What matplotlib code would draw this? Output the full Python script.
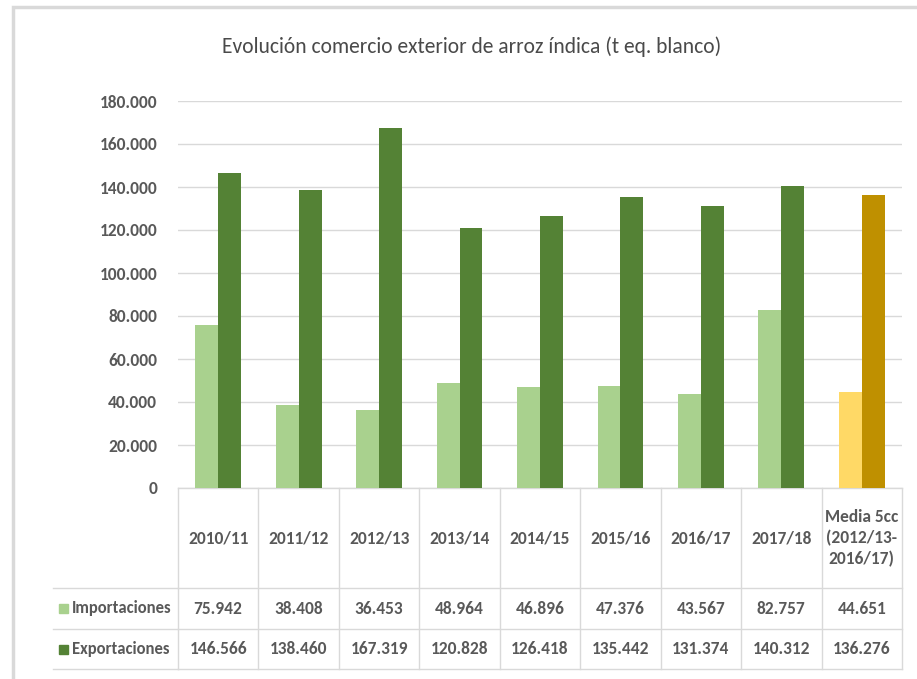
import matplotlib
matplotlib.use('Agg')
import matplotlib.pyplot as plt
import matplotlib.transforms as mtransforms
from matplotlib import font_manager
from matplotlib.patches import Rectangle
import numpy as np

categorias = ['2010/11', '2011/12', '2012/13', '2013/14', '2014/15', '2015/16',
              '2016/17', '2017/18', 'Media 5cc\n(2012/13-\n2016/17)']
importaciones = [75942, 38408, 36453, 48964, 46896, 47376, 43567, 82757, 44651]
exportaciones = [146566, 138460, 167319, 120828, 126418, 135442, 131374, 140312, 136276]
series = ['Importaciones', 'Exportaciones']
titulo = 'Evolución comercio exterior de arroz índica (t eq. blanco)'

col_imp = ['#A9D18E'] * 8 + ['#FFD966']
col_exp = ['#548235'] * 8 + ['#BF9000']
col_key = ['#A9D18E', '#548235']
txt = '#595959'
grid = '#D9D9D9'

# Calibri look-alike if present
names = {f.name for f in font_manager.fontManager.ttflist}
fam = 'Carlito' if 'Carlito' in names else 'DejaVu Sans'
plt.rcParams['font.family'] = [fam, 'DejaVu Sans']

def fmt(v):
    return f'{v:,}'.replace(',', '.')

W, H = 917, 679
fig = plt.figure(figsize=(W / 100, H / 100), dpi=100)

# chart border (Excel frame)
fig.patches.append(Rectangle((13 / W, -0.05), 1.0, (H - 7) / H + 0.05, transform=fig.transFigure,
                             fill=False, edgecolor=grid, lw=2.5))

left, right, top, bottom = 178, 902, 101, 488
ax = fig.add_axes([left / W, 1 - bottom / H, (right - left) / W, (bottom - top) / H])

x = np.arange(len(categorias))
bw = 0.285
ax.bar(x - bw / 2, importaciones, bw, color=col_imp, zorder=3)
ax.bar(x + bw / 2, exportaciones, bw, color=col_exp, zorder=3)

ax.set_xlim(-0.5, len(categorias) - 0.5)
ax.set_ylim(0, 180000)
ax.set_yticks(np.arange(0, 180001, 20000))
ax.set_yticklabels([fmt(v) for v in range(0, 180001, 20000)])
ax.tick_params(axis='y', length=0, pad=15, labelsize=12.5, labelcolor=txt)
for lab in ax.get_yticklabels():
    lab.set_fontweight('bold')
ax.set_xticks([])
ax.grid(axis='y', color=grid, lw=1, zorder=0)
for s in ax.spines.values():
    s.set_visible(False)

fig.text(472 / W, 1 - 47 / H, titulo, ha='center', va='center', fontsize=15.5, color='#4a4a4a')

# data table below the axes
px = lambda p: (bottom - p) / (bottom - top)  # pixel y -> axes y
y_head, y_r1, y_r2 = px(588), px(629), px(669)
tr = mtransforms.blended_transform_factory(ax.transData, ax.transAxes)
n = len(categorias)
kw = dict(color=grid, lw=1, clip_on=False, transform=tr)
ax.plot([-0.5, n - 0.5], [0, 0], **kw)
for yy in (y_head, y_r1, y_r2):
    ax.plot([-0.5, n - 0.5], [yy, yy], **kw)
for xx in np.arange(-0.5, n, 1.0):
    ax.plot([xx, xx], [0, y_r2], **kw)

# legend column
xl = (53 - left) / ((right - left) / n) - 0.5
for yy in (y_head, y_r1, y_r2):
    ax.plot([xl, -0.5], [yy, yy], **kw)

tfs = 12.5
for i, c in enumerate(categorias):
    ax.text(i, (0 + y_head) / 2, c, transform=tr, ha='center', va='center',
            fontsize=tfs, color=txt, fontweight='bold', linespacing=1.35)
    ax.text(i, (y_head + y_r1) / 2, fmt(importaciones[i]), transform=tr, ha='center', va='center',
            fontsize=tfs, color=txt, fontweight='bold')
    ax.text(i, (y_r1 + y_r2) / 2, fmt(exportaciones[i]), transform=tr, ha='center', va='center',
            fontsize=tfs, color=txt, fontweight='bold')

rows = [(y_head + y_r1) / 2, (y_r1 + y_r2) / 2]
for name, col, yc in zip(series, col_key, rows):
    yc_fig = 1 - (bottom - yc * (bottom - top)) / H
    fig.patches.append(Rectangle((59 / W, yc_fig - 4.5 / H), 9 / W, 9 / H,
                                 transform=fig.transFigure, color=col))
    fig.text(72 / W, yc_fig, name, ha='left', va='center', fontsize=12,
             color=txt, fontweight='bold')

fig.savefig('out.png', dpi=100)
